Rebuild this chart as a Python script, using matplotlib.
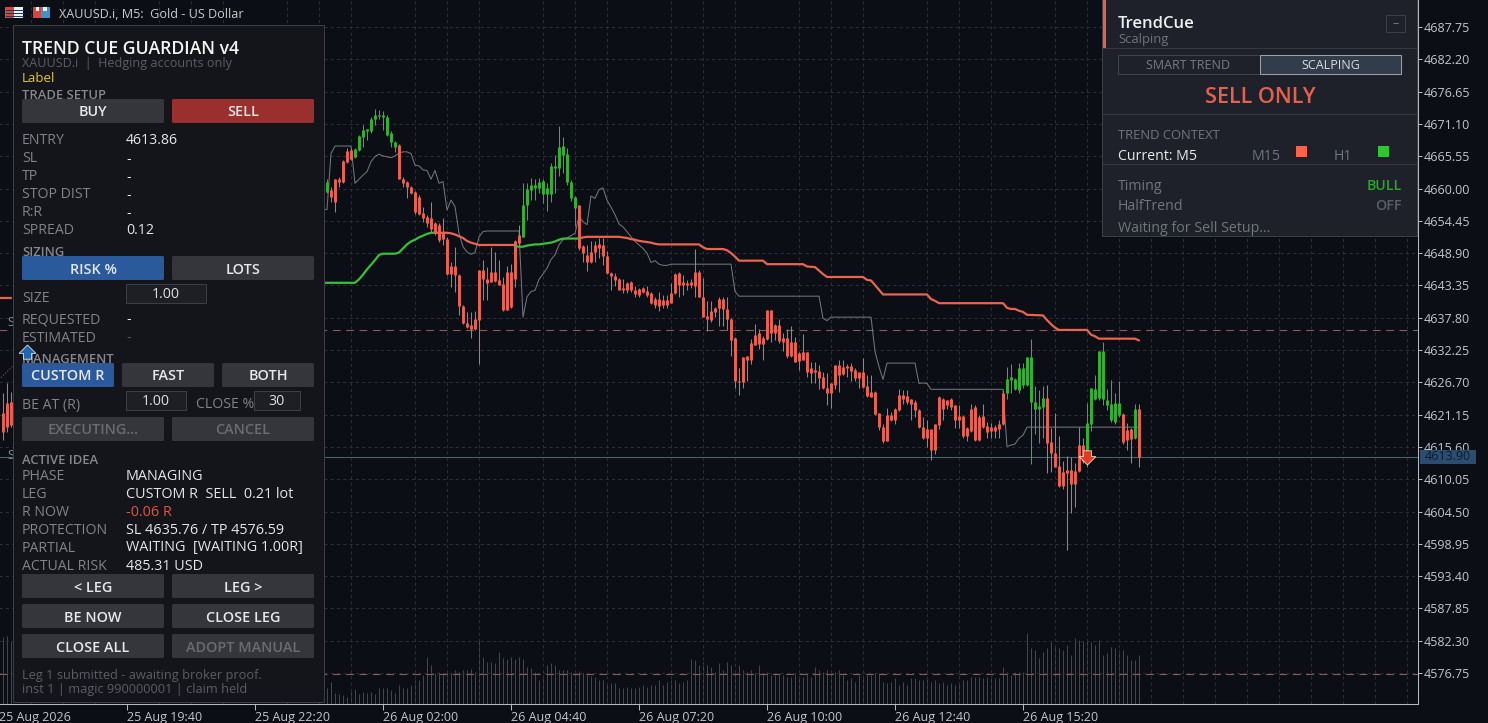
import matplotlib
matplotlib.use("Agg")
import matplotlib.pyplot as plt
from matplotlib.patches import Rectangle, FancyBboxPatch

W, H = 1488, 723

# %%
# chart data, bar number 0 is 25 Aug 19:40, one bar is 5 minutes
bar_idx = [-31, -30, -29] + list(range(50, 254))

opens = [4621.4, 4623.1, 4623.3,
    4659.4, 4659.8, 4661.6, 4661.7, 4664.7, 4666.5, 4666.6, 4665.5, 4666.6, 4668.8,
    4669.9, 4669.8, 4672.0, 4672.4, 4672.3, 4669.2, 4668.0, 4667.2, 4667.5, 4661.7,
    4661.2, 4660.2, 4659.4, 4658.6, 4655.8, 4655.1, 4654.9, 4654.0, 4653.8, 4652.4,
    4651.4, 4646.7, 4646.7, 4645.1, 4639.8, 4636.9, 4636.5, 4637.5, 4646.0, 4646.0,
    4644.4, 4645.6, 4645.6, 4644.3, 4643.6, 4645.6, 4645.6, 4651.0, 4652.0, 4651.7,
    4657.2, 4659.8, 4660.1, 4660.1, 4659.1, 4659.1, 4659.1, 4663.5, 4663.6, 4665.8,
    4661.2, 4658.3, 4656.6, 4657.1, 4650.2, 4648.5, 4649.1, 4650.3, 4650.5, 4650.3,
    4648.4, 4645.4, 4645.0, 4644.5, 4642.9, 4643.8, 4643.9, 4642.6, 4642.7, 4642.9,
    4642.4, 4642.0, 4641.1, 4641.0, 4640.9, 4640.9, 4642.0, 4645.3, 4645.4, 4644.0,
    4643.8, 4644.0, 4645.6, 4645.7, 4641.4, 4638.1, 4639.0, 4639.4, 4641.1, 4641.1,
    4639.3, 4637.6, 4634.3, 4627.0, 4631.1, 4631.2, 4633.4, 4634.9, 4635.1, 4634.4,
    4639.2, 4639.2, 4636.5, 4636.5, 4634.3, 4634.3, 4633.6, 4633.6, 4631.7, 4631.9,
    4631.9, 4629.1, 4628.9, 4628.6, 4627.7, 4625.8, 4626.5, 4629.6, 4629.6, 4629.3,
    4629.5, 4629.5, 4628.8, 4628.5, 4628.5, 4626.0, 4625.0, 4625.0, 4621.4, 4619.1,
    4621.0, 4621.0, 4622.2, 4624.5, 4624.5, 4624.3, 4623.9, 4623.4, 4622.0, 4619.1,
    4618.6, 4618.7, 4619.6, 4624.2, 4623.8, 4623.7, 4623.8, 4622.8, 4620.9, 4620.9,
    4618.8, 4622.2, 4622.4, 4620.8, 4620.9, 4619.2, 4619.1, 4619.1, 4619.5, 4624.8,
    4624.8, 4627.1, 4625.5, 4625.4, 4626.2, 4626.2, 4623.4, 4622.1, 4622.1, 4622.4,
    4624.0, 4616.5, 4614.6, 4612.3, 4611.3, 4611.6, 4611.6, 4611.5, 4615.9, 4615.9,
    4614.2, 4619.5, 4623.8, 4624.0, 4623.8, 4622.8, 4620.2, 4619.9, 4621.1,
    4621.3, 4618.5, 4618.6, 4617.1, 4622.2]

highs = [4624.9, 4626.6, 4625.0,
    4661.6, 4660.2, 4661.6, 4661.9, 4664.9, 4666.9, 4666.9, 4666.9, 4669.2, 4670.9,
    4670.3, 4672.3, 4673.6, 4673.5, 4673.4, 4672.6, 4669.8, 4668.2, 4667.6, 4661.9,
    4661.3, 4660.4, 4659.6, 4658.9, 4656.9, 4655.4, 4657.7, 4654.3, 4654.0, 4655.0,
    4651.6, 4647.4, 4650.0, 4645.3, 4640.0, 4638.8, 4638.8, 4639.0, 4646.0, 4647.8,
    4646.5, 4650.0, 4649.1, 4647.8, 4644.8, 4646.7, 4647.1, 4651.1, 4653.7, 4660.9,
    4660.9, 4661.8, 4661.6, 4661.8, 4661.6, 4660.9, 4664.4, 4665.8, 4670.8, 4668.9,
    4666.9, 4661.5, 4658.7, 4657.2, 4650.3, 4650.3, 4650.9, 4650.9, 4651.5, 4651.5,
    4649.2, 4645.6, 4645.4, 4644.6, 4644.4, 4644.0, 4644.1, 4643.3, 4642.9, 4643.1,
    4643.3, 4642.3, 4641.4, 4642.3, 4641.7, 4641.7, 4643.7, 4645.4, 4645.7, 4645.2,
    4644.3, 4644.4, 4649.6, 4646.0, 4644.6, 4640.6, 4640.6, 4639.7, 4641.4, 4641.4,
    4641.4, 4637.8, 4634.5, 4629.1, 4631.1, 4631.2, 4634.2, 4636.8, 4635.8, 4634.6,
    4639.2, 4639.2, 4636.8, 4637.5, 4635.1, 4635.9, 4636.3, 4634.5, 4631.9, 4635.0,
    4631.9, 4630.2, 4630.2, 4629.6, 4628.5, 4628.3, 4626.6, 4629.6, 4630.6, 4630.5,
    4629.9, 4630.0, 4629.1, 4628.5, 4630.9, 4627.9, 4627.9, 4625.2, 4621.4, 4619.6,
    4622.3, 4621.6, 4622.3, 4625.6, 4625.3, 4625.3, 4623.9, 4623.6, 4622.2, 4620.7,
    4620.2, 4618.7, 4619.6, 4624.4, 4624.0, 4623.7, 4624.0, 4622.8, 4622.8, 4620.9,
    4619.1, 4623.0, 4622.8, 4621.1, 4623.0, 4619.8, 4619.7, 4619.4, 4620.2, 4625.4,
    4629.3, 4629.9, 4627.4, 4630.1, 4630.0, 4631.0, 4634.1, 4626.0, 4625.4, 4626.0,
    4626.2, 4618.8, 4621.5, 4617.4, 4613.1, 4614.0, 4613.9, 4612.8, 4619.0, 4617.1,
    4623.2, 4625.8, 4628.0, 4632.0, 4633.7, 4625.5, 4627.1, 4624.8, 4627.0,
    4621.5, 4619.7, 4618.8, 4623.0, 4623.0]

lows = [4616.8, 4618.2, 4619.0,
    4659.2, 4657.7, 4656.0, 4660.3, 4660.9, 4664.3, 4664.9, 4665.3, 4666.5, 4667.2,
    4668.4, 4669.6, 4670.9, 4672.0, 4670.0, 4669.0, 4667.2, 4666.3, 4661.6, 4660.2,
    4658.3, 4659.0, 4655.7, 4655.4, 4654.3, 4653.4, 4652.3, 4652.0, 4650.8, 4650.3,
    4645.1, 4643.1, 4642.3, 4638.2, 4636.8, 4636.1, 4634.4, 4635.7, 4629.8, 4640.8,
    4640.8, 4644.0, 4644.0, 4643.4, 4639.0, 4639.1, 4639.4, 4643.1, 4650.3, 4651.6,
    4654.6, 4658.0, 4658.0, 4659.2, 4657.5, 4656.2, 4657.6, 4659.2, 4662.1, 4662.6,
    4660.6, 4657.8, 4653.5, 4649.5, 4647.4, 4645.9, 4647.2, 4647.4, 4648.0, 4646.9,
    4645.3, 4642.6, 4643.3, 4642.5, 4642.0, 4642.0, 4642.3, 4641.4, 4641.4, 4642.0,
    4641.4, 4640.2, 4639.4, 4638.9, 4639.4, 4639.4, 4640.3, 4641.9, 4641.4, 4641.7,
    4642.6, 4642.9, 4641.4, 4641.3, 4638.0, 4635.6, 4637.1, 4638.0, 4636.3, 4636.3,
    4635.7, 4631.2, 4625.8, 4624.6, 4625.8, 4627.0, 4629.8, 4633.1, 4632.5, 4630.6,
    4634.0, 4633.6, 4633.9, 4633.5, 4632.1, 4630.8, 4631.1, 4630.2, 4628.8, 4630.5,
    4627.6, 4626.5, 4626.6, 4625.6, 4625.6, 4622.8, 4622.3, 4625.6, 4625.0, 4627.9,
    4627.6, 4626.9, 4627.0, 4625.8, 4625.8, 4624.2, 4624.1, 4621.0, 4618.5, 4616.2,
    4616.6, 4620.1, 4619.5, 4621.8, 4623.0, 4623.0, 4620.3, 4620.7, 4618.9, 4617.0,
    4615.6, 4613.3, 4614.4, 4618.6, 4620.2, 4622.2, 4621.9, 4618.8, 4618.8, 4617.1,
    4616.7, 4618.2, 4616.7, 4616.7, 4618.8, 4617.2, 4617.1, 4617.1, 4617.1, 4619.4,
    4623.8, 4624.8, 4625.3, 4624.8, 4625.8, 4626.0, 4612.7, 4617.9, 4616.2, 4617.1,
    4611.1, 4611.3, 4612.2, 4608.8, 4608.3, 4597.9, 4604.3, 4605.3, 4611.3, 4612.9,
    4612.1, 4618.4, 4623.7, 4623.7, 4622.8, 4621.9, 4619.8, 4619.5, 4620.8,
    4616.1, 4615.0, 4612.8, 4616.9, 4612.1]

closes = [4618.2, 4619.0, 4619.4,
    4661.2, 4658.5, 4657.7, 4661.1, 4661.2, 4664.6, 4665.0, 4666.8, 4669.0, 4670.0,
    4670.2, 4672.0, 4672.6, 4672.6, 4672.6, 4672.3, 4669.5, 4668.0, 4661.7, 4660.9,
    4660.2, 4659.3, 4656.0, 4655.7, 4654.9, 4654.0, 4653.1, 4652.4, 4651.1, 4651.4,
    4645.3, 4645.3, 4645.1, 4639.8, 4636.9, 4636.2, 4635.8, 4635.9, 4637.4, 4644.4,
    4643.8, 4644.0, 4644.1, 4643.4, 4639.1, 4639.2, 4639.6, 4644.5, 4650.6, 4657.2,
    4659.9, 4660.6, 4660.6, 4661.2, 4661.3, 4660.1, 4663.8, 4663.8, 4667.2, 4667.3,
    4666.0, 4661.2, 4658.6, 4649.7, 4648.9, 4647.4, 4647.3, 4649.1, 4649.7, 4648.4,
    4645.4, 4644.9, 4644.3, 4642.6, 4642.5, 4642.5, 4642.5, 4641.9, 4641.7, 4642.3,
    4641.7, 4640.4, 4640.0, 4639.8, 4640.0, 4640.0, 4640.4, 4642.0, 4643.4, 4643.4,
    4643.4, 4643.4, 4643.3, 4641.4, 4638.0, 4637.6, 4637.4, 4638.7, 4639.4, 4639.3,
    4637.5, 4634.0, 4626.9, 4626.8, 4626.8, 4630.5, 4630.5, 4633.1, 4633.2, 4633.2,
    4634.2, 4635.1, 4635.2, 4633.8, 4633.6, 4631.2, 4631.2, 4630.2, 4630.4, 4630.6,
    4628.5, 4628.3, 4628.5, 4627.5, 4625.8, 4624.9, 4624.8, 4626.2, 4627.9, 4628.1,
    4629.1, 4628.7, 4627.5, 4627.5, 4625.9, 4624.3, 4624.2, 4621.2, 4619.0, 4616.6,
    4616.7, 4620.3, 4620.3, 4621.9, 4623.9, 4623.3, 4623.0, 4621.9, 4619.0, 4617.2,
    4617.2, 4615.0, 4615.1, 4619.4, 4622.2, 4622.8, 4622.4, 4620.3, 4620.2, 4617.5,
    4617.5, 4618.4, 4616.8, 4616.8, 4619.0, 4618.2, 4618.4, 4618.4, 4618.6, 4619.5,
    4627.2, 4627.7, 4627.2, 4629.2, 4629.2, 4631.0, 4631.0, 4623.4, 4622.6, 4624.0,
    4616.3, 4614.5, 4612.2, 4608.9, 4608.9, 4611.1, 4609.2, 4609.2, 4611.5, 4613.1,
    4619.7, 4625.7, 4625.5, 4632.0, 4632.0, 4623.7, 4623.0, 4623.1, 4623.1,
    4616.5, 4616.8, 4616.9, 4622.2, 4613.9]

volumes = [2000, 2050, 1900,
    470, 670, 320, 300, 270, 220, 370, 440, 300, 370,
    340, 370, 300, 470, 470, 470, 420, 320, 570, 470,
    470, 570, 720, 720, 870, 1400, 1170, 920, 970, 920,
    970, 940, 1020, 970, 1020, 1020, 1040, 970, 1900, 1400,
    1270, 1270, 1240, 1570, 1370, 1340, 1400, 1340, 1400, 1340,
    1120, 1070, 970, 720, 870, 1170, 1240, 1170, 1020, 1020,
    1020, 970, 970, 1000, 920, 870, 840, 800, 720, 720,
    620, 620, 620, 470, 470, 520, 470, 470, 520, 570,
    520, 570, 570, 720, 570, 670, 720, 720, 620, 670,
    720, 1340, 1320, 1170, 1270, 1170, 1120, 970, 1220, 1020,
    1270, 1170, 1020, 1170, 1020, 970, 1020, 940, 1170, 920,
    970, 870, 870, 870, 870, 820, 820, 920, 770, 820,
    920, 820, 1120, 1020, 970, 1020, 970, 970, 1020, 870,
    720, 770, 670, 870, 870, 870, 870, 920, 920, 670,
    620, 670, 770, 570, 670, 570, 770, 770, 720, 720,
    740, 670, 720, 620, 670, 570, 620, 570, 670, 720,
    720, 820, 820, 820, 770, 820, 770, 770, 770, 1120,
    970, 870, 970, 970, 970, 2120, 1670, 1620, 1370, 1570,
    1670, 1870, 1720, 1670, 1620, 1770, 1470, 1970, 1920, 1900,
    1920, 1870, 1770, 1920, 1470, 1520, 1720, 1670, 1620, 1620,
    1470, 1320, 1320, 1470]

# thin grey indicator
grey_idx = [49, 50, 51, 52, 56, 57, 58, 59, 60, 61, 62, 63, 64, 66, 67, 68, 69, 70, 71, 72, 73, 74, 75,
    76, 77, 78, 79, 80, 81, 82, 83, 84, 85, 86, 87, 88, 89, 90, 98, 99, 100, 101, 102, 103, 104,
    105, 106, 107, 108, 109, 110, 111, 112, 113, 114, 115, 116, 117, 118, 119, 120, 121, 122, 123,
    124, 125, 126, 127, 128, 129, 130, 131, 132, 133, 134, 135, 136, 150, 151, 152, 153, 173, 174,
    175, 176, 186, 187, 188, 189, 190, 197, 198, 199, 200, 201, 219, 220, 221, 222, 223, 224, 225, 253]
grey_val = [4656.4, 4656.4, 4666.0, 4667.3, 4667.3, 4660.9, 4661.6, 4662.3, 4662.9, 4664.6, 4665.5, 4665.9,
    4665.6, 4665.3, 4665.6, 4666.1, 4666.3, 4666.3, 4666.0, 4664.0, 4663.9, 4663.2, 4663.1,
    4661.6, 4663.1, 4660.9, 4661.2, 4656.3, 4658.0, 4656.9, 4652.3, 4650.0, 4649.1, 4648.7, 4649.0,
    4651.7, 4652.6, 4652.7, 4652.7, 4637.9, 4641.4, 4642.3, 4642.5, 4644.4, 4645.3,
    4646.3, 4647.8, 4648.6, 4650.3, 4651.2, 4651.5, 4651.9, 4652.3, 4655.2, 4654.3, 4653.8, 4658.7,
    4658.3, 4659.8, 4660.1, 4658.0, 4656.8, 4655.5, 4653.9,
    4653.4, 4652.6, 4651.7, 4650.9, 4650.3, 4649.7, 4648.9, 4647.3, 4647.6, 4647.0, 4646.8, 4646.8,
    4647.0, 4647.0, 4647.0, 4642.3, 4641.5, 4641.5, 4637.7,
    4637.3, 4637.9, 4637.9, 4632.0, 4629.4, 4627.2, 4630.0, 4630.0, 4626.5, 4626.6, 4626.5, 4625.5,
    4625.5, 4615.7, 4615.9, 4616.1, 4617.1, 4617.6, 4619.0, 4619.0]

# trend line, green and red parts
trend_green1_idx = [49, 57, 58, 59, 60, 61, 62, 63, 64, 67, 68, 69, 70, 71, 72, 73, 74, 75, 76, 77]
trend_green1_val = [4643.8, 4643.8, 4644.4, 4645.2, 4646.1, 4646.9, 4647.7, 4648.6, 4648.8, 4648.8, 4649.0,
    4649.7, 4650.4, 4650.9, 4651.2, 4651.6, 4651.9, 4652.2, 4652.4, 4652.4]
trend_green2_idx = [97, 98, 99, 100, 101, 102, 103, 104, 105, 106, 107, 108, 109, 112, 113]
trend_green2_val = [4650.1, 4650.0, 4650.0, 4650.2, 4650.3, 4650.4, 4650.4, 4650.5, 4650.6, 4650.7, 4650.9,
    4651.2, 4651.4, 4651.4, 4651.4]
trend_red0_idx = [-33, -29]
trend_red0_val = [4641.2, 4641.2]
trend_red1_idx = [77, 80, 81, 82, 83, 84, 85, 86, 87, 88, 97]
trend_red1_val = [4652.4, 4652.4, 4652.3, 4652.1, 4651.8, 4651.5, 4651.0, 4650.7, 4650.5, 4650.3, 4650.3]
trend_red2_idx = [113, 114, 115, 117, 121, 123, 124, 125, 126, 127, 128, 129, 130, 131, 132, 133, 143, 144, 145,
    149, 150, 151, 152, 153, 159, 160, 169, 170, 172, 173, 174, 175, 184, 185, 186, 187, 188, 189,
    200, 201, 202, 203, 219, 220, 221, 222, 223, 224, 225, 229, 230, 231, 232, 233, 240, 241, 242,
    243, 252, 253]
trend_red2_val = [4651.4, 4651.6, 4651.7, 4651.7, 4651.7, 4651.7, 4651.6, 4651.5, 4651.3, 4651.2, 4651.0,
    4650.9, 4650.8, 4650.7, 4650.5, 4650.4, 4650.4, 4649.9, 4649.6,
    4649.6, 4649.4, 4648.9, 4648.3, 4647.6, 4647.6, 4647.0, 4647.0, 4646.6, 4646.5, 4645.9, 4645.3, 4644.8,
    4644.8, 4644.3, 4644.2, 4643.4, 4642.6, 4641.8,
    4641.8, 4641.0, 4640.7, 4640.3, 4640.3, 4639.5, 4639.3, 4639.3, 4639.0, 4638.8, 4638.3, 4638.2,
    4637.4, 4636.7, 4636.1, 4635.7, 4635.7, 4634.9, 4634.6,
    4634.2, 4634.2, 4633.9]

price_ticks = [4687.75, 4682.20, 4676.65, 4671.10, 4665.55, 4660.00, 4654.45, 4648.90, 4643.35, 4637.80, 4632.25,
    4626.70, 4621.15, 4615.60, 4610.05, 4604.50, 4598.95, 4593.40, 4587.85, 4582.30, 4576.75]
time_tick_idx = [-32, 0, 32, 64, 96, 128, 160, 192, 224]
time_labels = ["25 Aug 2026", "25 Aug 19:40", "25 Aug 22:20", "26 Aug 02:00", "26 Aug 04:40",
    "26 Aug 07:20", "26 Aug 10:00", "26 Aug 12:40", "26 Aug 15:20"]

sl_price = 4635.76
tp_price = 4576.59
entry_price = 4613.86
last_price = 4613.90
sell_idx, sell_price = 240, 4613.9
buy_idx, buy_price = -25, 4631.9
stub_labels = [(-30, 4636.9), (-30, 4614.1)]

# %%
BG = "#0b0e14"
RED = "#ec6350"
GREEN = "#31b431"
FONT = "Open Sans"
plt.rcParams["font.family"] = [FONT, "DejaVu Sans"]

fig = plt.figure(figsize=(W / 100, H / 100), dpi=100, facecolor=BG)
rect = [-2 / W, (H - 704) / H, 1420 / W, 704 / H]

ax_vol = fig.add_axes(rect, zorder=1)
ax_vol.set_xlim(-32.25, 322.75)
ax_vol.set_ylim(0, 704 * 30)
ax_vol.axis("off")
ax_vol.vlines(bar_idx, 0, volumes, color="#30504c", lw=0.72)

ax = fig.add_axes(rect, zorder=2)
ax.patch.set_visible(False)
ax.set_xlim(-32.25, 322.75)
ax.set_ylim(4571.43, 4692.39)

ax.yaxis.tick_right()
ax.set_yticks(price_ticks)
ax.set_yticklabels([f"{p:.2f}" for p in price_ticks], fontsize=9, color="#c2c6ca")
ax.tick_params(axis="y", length=3, width=0.75, color="#b5b9bd", pad=1)
ax.set_xticks(time_tick_idx)
ax.set_xticklabels(time_labels, fontsize=9, color="#c2c6ca", ha="left")
ax.tick_params(axis="x", length=4, width=0.75, color="#b5b9bd", pad=1)
ax.set_xticks(list(range(-32, 323, 8)), minor=True)
ax.tick_params(axis="x", which="minor", length=0)
ax.grid(True, axis="y", which="major", color="#2b2f37", ls=(0, (3, 3)), lw=0.75)
ax.grid(True, axis="x", which="minor", color="#2b2f37", ls=(0, (3, 3)), lw=0.75)
ax.set_axisbelow(True)
for side in ["top", "left"]:
    ax.spines[side].set_visible(False)
for side in ["right", "bottom"]:
    ax.spines[side].set_color("#b5b9bd")
    ax.spines[side].set_linewidth(0.75)

# price levels
ax.axhline(sl_price, color="#8c5a54", ls=(0, (7, 5)), lw=0.8, zorder=1.5)
ax.axhline(tp_price, color="#8c5a54", ls=(0, (7, 5)), lw=0.8, zorder=1.5)
ax.axhline(entry_price, color="#46666c", lw=0.8, zorder=1.5)

# indicator lines
ax.plot(grey_idx, grey_val, color="#72767b", lw=0.75, zorder=2)

# candles, colour follows direction
colors = [GREEN if c >= o else RED for o, c in zip(opens, closes)]
ax.vlines(bar_idx, lows, highs, colors=colors, lw=0.75, zorder=3)
body_low = [min(o, c) for o, c in zip(opens, closes)]
body_high = [max(o, c) for o, c in zip(opens, closes)]
ax.vlines(bar_idx, body_low, body_high, colors=colors, lw=2.1, zorder=3)

for xs, ys, col in [(trend_green1_idx, trend_green1_val, "#39c039"),
                    (trend_green2_idx, trend_green2_val, "#39c039"),
                    (trend_red0_idx, trend_red0_val, RED),
                    (trend_red1_idx, trend_red1_val, RED),
                    (trend_red2_idx, trend_red2_val, RED)]:
    ax.plot(xs, ys, color=col, lw=1.6, zorder=4, solid_capstyle="round")

# trade arrows, blue one sits on top of the panel
down_arrow = [(-0.5, 0.8), (0.5, 0.8), (0.5, 0.1), (1, 0.1), (0, -0.9), (-1, 0.1), (-0.5, 0.1), (-0.5, 0.8)]
up_arrow = [(x, -y) for x, y in down_arrow]
ax.plot([-33, buy_idx], [4626.5, buy_price], color="#a8503e", ls=":", lw=0.8, zorder=4)
ax.plot([sell_idx], [sell_price], marker=down_arrow, ms=12, mfc="#e03c22", mec="white", mew=0.5, zorder=5)
for i, p in stub_labels:
    ax.text(i, p, "S", color="#8a8f95", fontsize=9, ha="left", va="center", zorder=2)

ax_top = fig.add_axes(rect, zorder=4)
ax_top.set_xlim(-32.25, 322.75)
ax_top.set_ylim(4571.43, 4692.39)
ax_top.axis("off")
ax_top.plot([buy_idx], [buy_price], marker=up_arrow, ms=12, mfc="#1f66b0", mec="white", mew=0.5)

# %%
# overlay in screen pixels for the two panels
ui = fig.add_axes([0, 0, 1, 1], zorder=3)
ui.set_xlim(0, W)
ui.set_ylim(H, 0)
ui.axis("off")


def box(x0, y0, x1, y1, fc, ec="none", lw=0.75, z=2):
    ui.add_patch(Rectangle((x0, y0), x1 - x0, y1 - y0, fc=fc, ec=ec, lw=lw, zorder=z))


def txt(x, y, s, color="#7f838a", size=10.2, weight="normal", ha="left", z=4):
    ui.text(x, y + 1.5, s, color=color, fontsize=size, fontweight=weight, ha=ha, va="center", zorder=z)


def button(x0, y0, x1, y1, s, fc="#35363c", color="#e8e8ea"):
    ui.add_patch(FancyBboxPatch((x0 + 1, y0 + 1), x1 - x0 - 2, y1 - y0 - 2, boxstyle="round,pad=1,rounding_size=1.5",
                                fc=fc, ec="none", zorder=3))
    txt((x0 + x1) / 2, (y0 + y1) / 2, s, color=color, size=10.4, weight="semibold", ha="center")


def edit(x0, y0, x1, y1, s):
    box(x0, y0, x1, y1, "#1e1f25", ec="#3c3e44", z=3)
    txt((x0 + x1) / 2, (y0 + y1) / 2, s, color="#e0e0e2", ha="center")


# price tag on the right axis
box(1420, 450, 1476, 464, "#2b4d70", z=3)
txt(1448, 455.5, f"{last_price:.2f}", color="#0c1c2e", size=9, ha="center")

# header
box(5, 7, 14, 18, "#d8453c")
box(14, 7, 23, 18, "#e8eef2")
for yy in [10, 13, 16]:
    ui.plot([6, 23], [yy, yy], color="#123a62", lw=0.7, zorder=3)
box(33, 7, 41, 18, "#d8453c")
box(41, 7, 50, 18, "#3d93cc")
box(36, 7, 39, 11, "#f2f2f2", z=3)
box(43, 7, 47, 11, "#f2f2f2", z=3)
txt(59, 13, "XAUUSD.i, M5:  Gold - US Dollar", color="#c9cacc", size=9.1)

# guardian panel
box(12.5, 24.5, 323.5, 701.5, "#14151a", ec="#3b3e45")
txt(22, 47.5, "TREND CUE GUARDIAN v4", color="#f4f4f4", size=12.7, weight="semibold")
txt(22, 61.5, "XAUUSD.i  |  Hedging accounts only", color="#5a5d63", size=9.1)
txt(22, 77.5, "Label", color="#e6c81e", size=9.5)

HEAD = "#85888e"
VAL = "#e6e6e8"
txt(22, 94, "TRADE SETUP", color=HEAD, size=9.4, weight="semibold")
button(22, 99, 164, 123, "BUY")
button(172, 99, 314, 123, "SELL", fc="#9b2f2d")

setup_labels = ["ENTRY", "SL", "TP", "STOP DIST", "R:R", "SPREAD"]
setup_values = ["4613.86", "-", "-", "-", "-", "0.12"]
for n, (a, b) in enumerate(zip(setup_labels, setup_values)):
    txt(22, 139.5 + 18 * n, a)
    txt(126, 139.5 + 18 * n, b, color=VAL)

txt(22, 251, "SIZING", color=HEAD, size=9.4, weight="semibold")
button(22, 256, 164, 280, "RISK %", fc="#2a5a9c")
button(172, 256, 314, 280, "LOTS")
txt(22, 296.5, "SIZE")
edit(126, 283.5, 205.5, 302.5, "1.00")
txt(22, 318.5, "REQUESTED")
txt(126, 318.5, "-", color=VAL)
txt(22, 336.5, "ESTIMATED")
txt(126, 336.5, "-", color="#55585e")

txt(22, 358, "MANAGEMENT", color=HEAD, size=9.4, weight="semibold")
button(22, 363, 114, 387, "CUSTOM R", fc="#2a5a9c")
button(122, 363, 214, 387, "FAST")
button(222, 363, 314, 387, "BOTH")
txt(22, 403.5, "BE AT (R)")
edit(126, 390.5, 185.5, 409.5, "1.00")
txt(196, 403.5, "CLOSE %")
edit(254, 390.5, 299.5, 409.5, "30")
button(22, 417, 164, 441, "EXECUTING...", color="#6b6c72")
button(172, 417, 314, 441, "CANCEL", color="#6b6c72")

txt(22, 459, "ACTIVE IDEA", color=HEAD, size=9.4, weight="semibold")
idea_labels = ["PHASE", "LEG", "R NOW", "PROTECTION", "PARTIAL", "ACTUAL RISK"]
idea_values = ["MANAGING", "CUSTOM R  SELL  0.21 lot", "-0.06 R", "SL 4635.76 / TP 4576.59",
    "WAITING  [WAITING 1.00R]", "485.31 USD"]
for n, (a, b) in enumerate(zip(idea_labels, idea_values)):
    txt(22, 474.5 + 18 * n, a)
    txt(126, 474.5 + 18 * n, b, color="#e5533c" if n == 2 else VAL, size=10.4)

button(22, 574, 164, 598, "< LEG")
button(172, 574, 314, 598, "LEG >")
button(22, 604, 164, 628, "BE NOW")
button(172, 604, 314, 628, "CLOSE LEG")
button(22, 634, 164, 658, "CLOSE ALL")
button(172, 634, 314, 658, "ADOPT MANUAL", color="#6b6c72")
txt(22, 673.5, "Leg 1 submitted - awaiting broker proof.", color="#5a5d63", size=9.2)
txt(22, 687.5, "inst 1 | magic 990000001 | claim held", color="#5a5d63", size=9.2)

# trendcue panel
box(1102, -1, 1417, 235.5, "#1e2129", ec="#3a3f48")
box(1103, 0, 1106, 48, "#e8604a", z=3)
ui.plot([1103, 1417], [48, 48], color="#343942", lw=0.75, zorder=3)
ui.plot([1103, 1417], [114, 114], color="#343942", lw=0.75, zorder=3)
ui.plot([1103, 1417], [164, 164], color="#343942", lw=0.75, zorder=3)
txt(1118, 22, "TrendCue", color="#eef0f2", size=12, weight="semibold")
txt(1118, 38.5, "Scalping", color="#6f747c", size=9.4)
box(1386, 14.5, 1405, 31.5, "#1e2129", ec="#3a3f48", z=3)
txt(1395.5, 22, "–", color="#7a7f86", size=9, ha="center")
box(1118, 54.5, 1259.5, 73.5, "#1e2129", ec="#3f444c", z=3)
box(1260, 54.5, 1401, 73.5, "#333c4a", ec="#98a1ab", z=3)
txt(1188, 64, "SMART TREND", color="#777b82", size=9, ha="center")
txt(1331, 64, "SCALPING", color="#d8dde0", size=9, ha="center")
txt(1260, 96, "SELL ONLY", color="#e8604a", size=15.6, weight="semibold", ha="center")
txt(1118, 134, "TREND CONTEXT", color="#70757c", size=9.4)
txt(1118, 155.5, "Current: M5", color="#e8e9ea", size=10.2)
txt(1252, 155.5, "M15", color="#70757c", size=10.2)
box(1296, 146, 1307, 157, "#ff6347", z=3)
txt(1334, 155.5, "H1", color="#70757c", size=10.2)
box(1378, 146, 1389, 157, "#2fc62f", z=3)
txt(1118, 184.5, "Timing", color="#70757c", size=10.2)
txt(1402, 184.5, "BULL", color="#2aa82a", size=10.2, weight="semibold", ha="right")
txt(1118, 204.5, "HalfTrend", color="#70757c", size=10.2)
txt(1402, 204.5, "OFF", color="#5a5f66", size=10.2, weight="semibold", ha="right")
txt(1118, 227, "Waiting for Sell Setup...", color="#70757c", size=10.3)

fig.savefig("out.png", dpi=100, facecolor=BG)
